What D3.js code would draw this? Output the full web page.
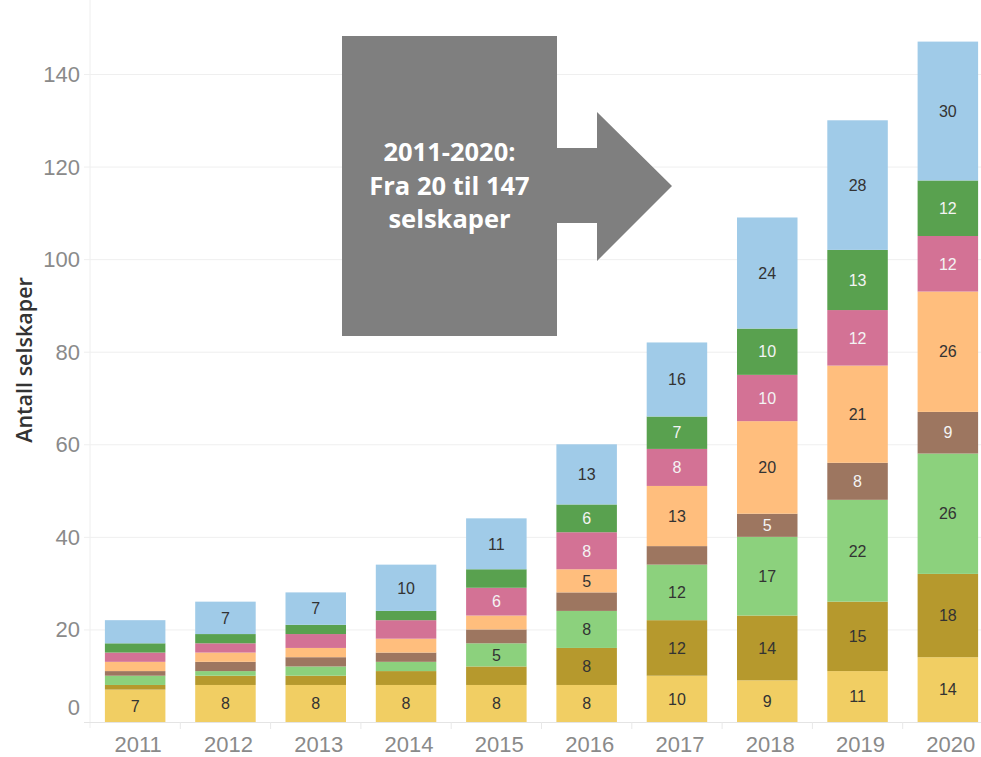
<!DOCTYPE html>
<html>
<head>
<meta charset="utf-8">
<script src="https://cdn.jsdelivr.net/npm/d3@7"></script>
<style>
  body { margin: 0; background: #fff; }
  svg { display: block; }
  .tick-label { font-family: "Liberation Sans", Arial, sans-serif; font-size: 22px; fill: #8a8a8a; }
  .seg-label { font-family: "Liberation Sans", Arial, sans-serif; font-size: 16px; }
</style>
</head>
<body>
<svg id="chart" width="981" height="757"></svg>
<script>
// data, bottom to top
const years = ["2011","2012","2013","2014","2015","2016","2017","2018","2019","2020"]
const seriesKeys = ["yellow","olive","lightgreen","brown","orange","pink","green","blue"]
const yellow     = [7, 8, 8, 8, 8, 8, 10, 9, 11, 14]
const olive      = [1, 2, 2, 3, 4, 8, 12, 14, 15, 18]
const lightgreen = [2, 1, 2, 2, 5, 8, 12, 17, 22, 26]
const brown      = [1, 2, 2, 2, 3, 4, 4, 5, 8, 9]
const orange     = [2, 2, 2, 3, 3, 5, 13, 20, 21, 26]
const pink       = [2, 2, 3, 4, 6, 8, 8, 10, 12, 12]
const green      = [2, 2, 2, 2, 4, 6, 7, 10, 13, 12]
const blue       = [5, 7, 7, 10, 11, 13, 16, 24, 28, 30]
const yTicks = [0, 20, 40, 60, 80, 100, 120, 140]
const hiddenLabels = ["2011-blue"]
const annotationLines = ["2011-2020:", "Fra 20 til 147", "selskaper"]

const seriesValues = {yellow, olive, lightgreen, brown, orange, pink, green, blue}
const colors = {
    yellow: "#f1ce63", olive: "#b6992d", lightgreen: "#8cd17d", brown: "#9d7660",
    orange: "#ffbe7d", pink: "#d37295", green: "#59a14f", blue: "#a0cbe8"
}
const lightText = ["brown", "pink", "green"]

const table = years.map((y, i) => {
    const row = {year: y}
    seriesKeys.forEach(k => row[k] = seriesValues[k][i])
    return row
})

const svg = d3.select("#chart")
const left = 90, right = 993, bottom = 722

const x = d3.scaleBand()
    .domain(years)
    .range([left, right])
    .paddingInner(0.33)
    .paddingOuter(0.165)

const y = d3.scaleLinear()
    .domain([0, 140])
    .range([bottom, 74])

// faint left axis line
svg.append("line")
    .attr("x1", left).attr("x2", left)
    .attr("y1", 0).attr("y2", bottom + 6)
    .attr("stroke", "#eeeeee")

// gridlines + ticks
const grid = svg.append("g")
grid.selectAll("line")
    .data(yTicks)
    .join("line")
    .attr("x1", left - 6)
    .attr("x2", 981)
    .attr("y1", d => y(d) + 0.5)
    .attr("y2", d => y(d) + 0.5)
    .attr("stroke", d => d === 0 ? "#e4e4e4" : "#efefef")

grid.selectAll("text")
    .data(yTicks)
    .join("text")
    .attr("class", "tick-label")
    .attr("x", 80)
    .attr("y", d => d === 0 ? y(d) - 7 : y(d) + 8)
    .attr("text-anchor", "end")
    .text(d => d)

// column dividers at bottom
const step = x.step()
svg.append("g").selectAll("line")
    .data(years.slice(1))
    .join("line")
    .attr("x1", d => x(d) - x.paddingInner() * step / 2)
    .attr("x2", d => x(d) - x.paddingInner() * step / 2)
    .attr("y1", bottom)
    .attr("y2", bottom + 7)
    .attr("stroke", "#e8e8e8")

// stacked bars
const stack = d3.stack().keys(seriesKeys)(table)

const layers = svg.append("g").selectAll("g")
    .data(stack)
    .join("g")
    .attr("fill", d => colors[d.key])

layers.selectAll("rect")
    .data(d => d.map(p => ({key: d.key, p})))
    .join("rect")
    .attr("x", d => x(d.p.data.year))
    .attr("width", x.bandwidth())
    .attr("y", d => y(d.p[1]))
    .attr("height", d => y(d.p[0]) - y(d.p[1]))

// segment labels
const labels = []
stack.forEach(layer => {
    layer.forEach(p => {
        const v = p[1] - p[0]
        if (v >= 5 && !hiddenLabels.includes(`${p.data.year}-${layer.key}`)) {
            labels.push({key: layer.key, year: p.data.year, v, mid: (p[0] + p[1]) / 2})
        }
    })
})

svg.append("g").selectAll("text")
    .data(labels)
    .join("text")
    .attr("class", "seg-label")
    .attr("x", d => x(d.year) + x.bandwidth() / 2)
    .attr("y", d => y(d.mid))
    .attr("dy", "0.36em")
    .attr("text-anchor", "middle")
    .attr("fill", d => lightText.includes(d.key) ? "#f4f4f4" : "#333333")
    .text(d => d.v)

// x labels
svg.append("g").selectAll("text")
    .data(years)
    .join("text")
    .attr("class", "tick-label")
    .attr("x", d => x(d) + x.bandwidth() / 2 + 3)
    .attr("y", 752)
    .attr("text-anchor", "middle")
    .text(d => d)

// y axis title
svg.append("text")
    .attr("transform", `translate(32,360) rotate(-90)`)
    .attr("text-anchor", "middle")
    .attr("font-family", "'Open Sans', sans-serif")
    .attr("font-weight", 600)
    .attr("font-size", 21.5)
    .attr("fill", "#333")
    .text("Antall selskaper")

// annotation arrow
const arrow = svg.append("g")
arrow.append("path")
    .attr("d", "M342,36 L557,36 L557,148 L597,148 L597,112 L672,186 L597,261 L597,223 L557,223 L557,336 L342,336 Z")
    .attr("fill", "#7f7f7f")

arrow.selectAll("text")
    .data(annotationLines)
    .join("text")
    .attr("x", 449.5)
    .attr("y", (d, i) => 161 + i * 33.5)
    .attr("text-anchor", "middle")
    .attr("font-family", "'Open Sans', sans-serif")
    .attr("font-weight", "bold")
    .attr("font-size", 25.5)
    .attr("fill", "#ffffff")
    .text(d => d)
</script>
</body>
</html>
